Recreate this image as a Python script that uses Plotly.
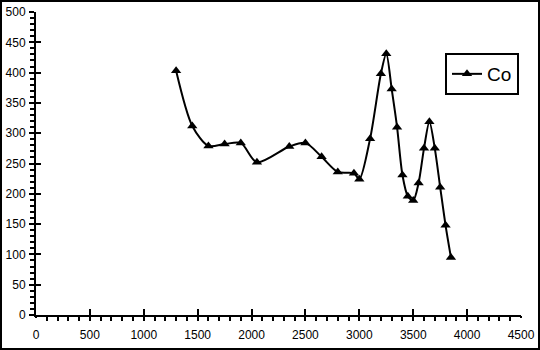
import plotly.graph_objects as go

# Data
wavenumber = [1300, 1450, 1600, 1750, 1900, 2050, 2350, 2500, 2650, 2800, 2950, 3000,
              3100, 3200, 3250, 3300, 3350, 3400, 3450, 3500, 3550, 3600, 3650, 3700,
              3750, 3800, 3850]
co_values = [403, 312, 279, 282, 284, 252, 278, 284, 261, 236, 234, 224,
             291, 398, 431, 373, 310, 231, 196, 189, 218, 275, 319, 275,
             211, 148, 95]
x_ticks = [0, 500, 1000, 1500, 2000, 2500, 3000, 3500, 4000, 4500]
y_ticks = [0, 50, 100, 150, 200, 250, 300, 350, 400, 450, 500]

FONT = "Liberation Sans, Arial, sans-serif"

fig = go.Figure()
fig.add_trace(go.Scatter(
    x=wavenumber, y=co_values, name="Co", mode="lines+markers",
    line=dict(color="black", width=2, shape="spline", smoothing=0.8),
    marker=dict(symbol="triangle-up", size=9, color="black"),
))
# invisible trace to carry the overlay axes with crossing ticks
fig.add_trace(go.Scatter(x=[None], y=[None], xaxis="x2", yaxis="y2",
                         showlegend=False, hoverinfo="skip"))

fig.update_layout(
    width=540, height=350,
    margin=dict(l=36, r=19, t=12, b=35, autoexpand=False),
    paper_bgcolor="white", plot_bgcolor="white",
    font=dict(family=FONT, size=12, color="black"),
    showlegend=True,
    legend=dict(
        x=(445 - 36) / 485, y=(315 - 53) / 303, xanchor="left", yanchor="top",
        bordercolor="black", borderwidth=2, bgcolor="white",
        font=dict(size=19, family=FONT, color="black"),
        itemwidth=30, tracegroupgap=0,
    ),
    xaxis=dict(
        range=[0, 4500], tickvals=x_ticks, ticktext=[str(v) for v in x_ticks],
        showgrid=False, zeroline=False, showline=True, linecolor="black", linewidth=2,
        ticks="inside", ticklen=6, tickwidth=2, tickcolor="black",
        minor=dict(dtick=100, ticks="outside", ticklen=4, tickwidth=2, tickcolor="black", showgrid=False),
        ticklabelstandoff=8, automargin=False,
    ),
    yaxis=dict(
        range=[0, 500], tickvals=y_ticks, ticktext=[str(v) for v in y_ticks],
        showgrid=False, zeroline=False, showline=True, linecolor="black", linewidth=2,
        ticks="outside", ticklen=5, tickwidth=2, tickcolor="black",
        minor=dict(dtick=10, ticks="outside", ticklen=4, tickwidth=2, tickcolor="black", showgrid=False),
        ticklabelstandoff=1, automargin=False,
    ),
    xaxis2=dict(
        range=[0, 4500], tickvals=x_ticks, overlaying="x", anchor="y2", side="bottom",
        showgrid=False, zeroline=False, showline=False, showticklabels=False,
        ticks="outside", ticklen=2, tickwidth=2, tickcolor="black", automargin=False,
    ),
    yaxis2=dict(
        range=[0, 500], tickvals=y_ticks, overlaying="y", anchor="x2", side="left",
        showgrid=False, zeroline=False, showline=False, showticklabels=False,
        ticks="inside", ticklen=5, tickwidth=2, tickcolor="black", automargin=False,
    ),
    shapes=[dict(
        type="rect", xref="paper", yref="paper",
        x0=(1 - 36) / 485, x1=(539 - 36) / 485,
        y0=(315 - 349) / 303, y1=(315 - 1) / 303,
        line=dict(color="black", width=2), fillcolor="rgba(0,0,0,0)", layer="above",
    )],
)

fig.write_html("out.html")
